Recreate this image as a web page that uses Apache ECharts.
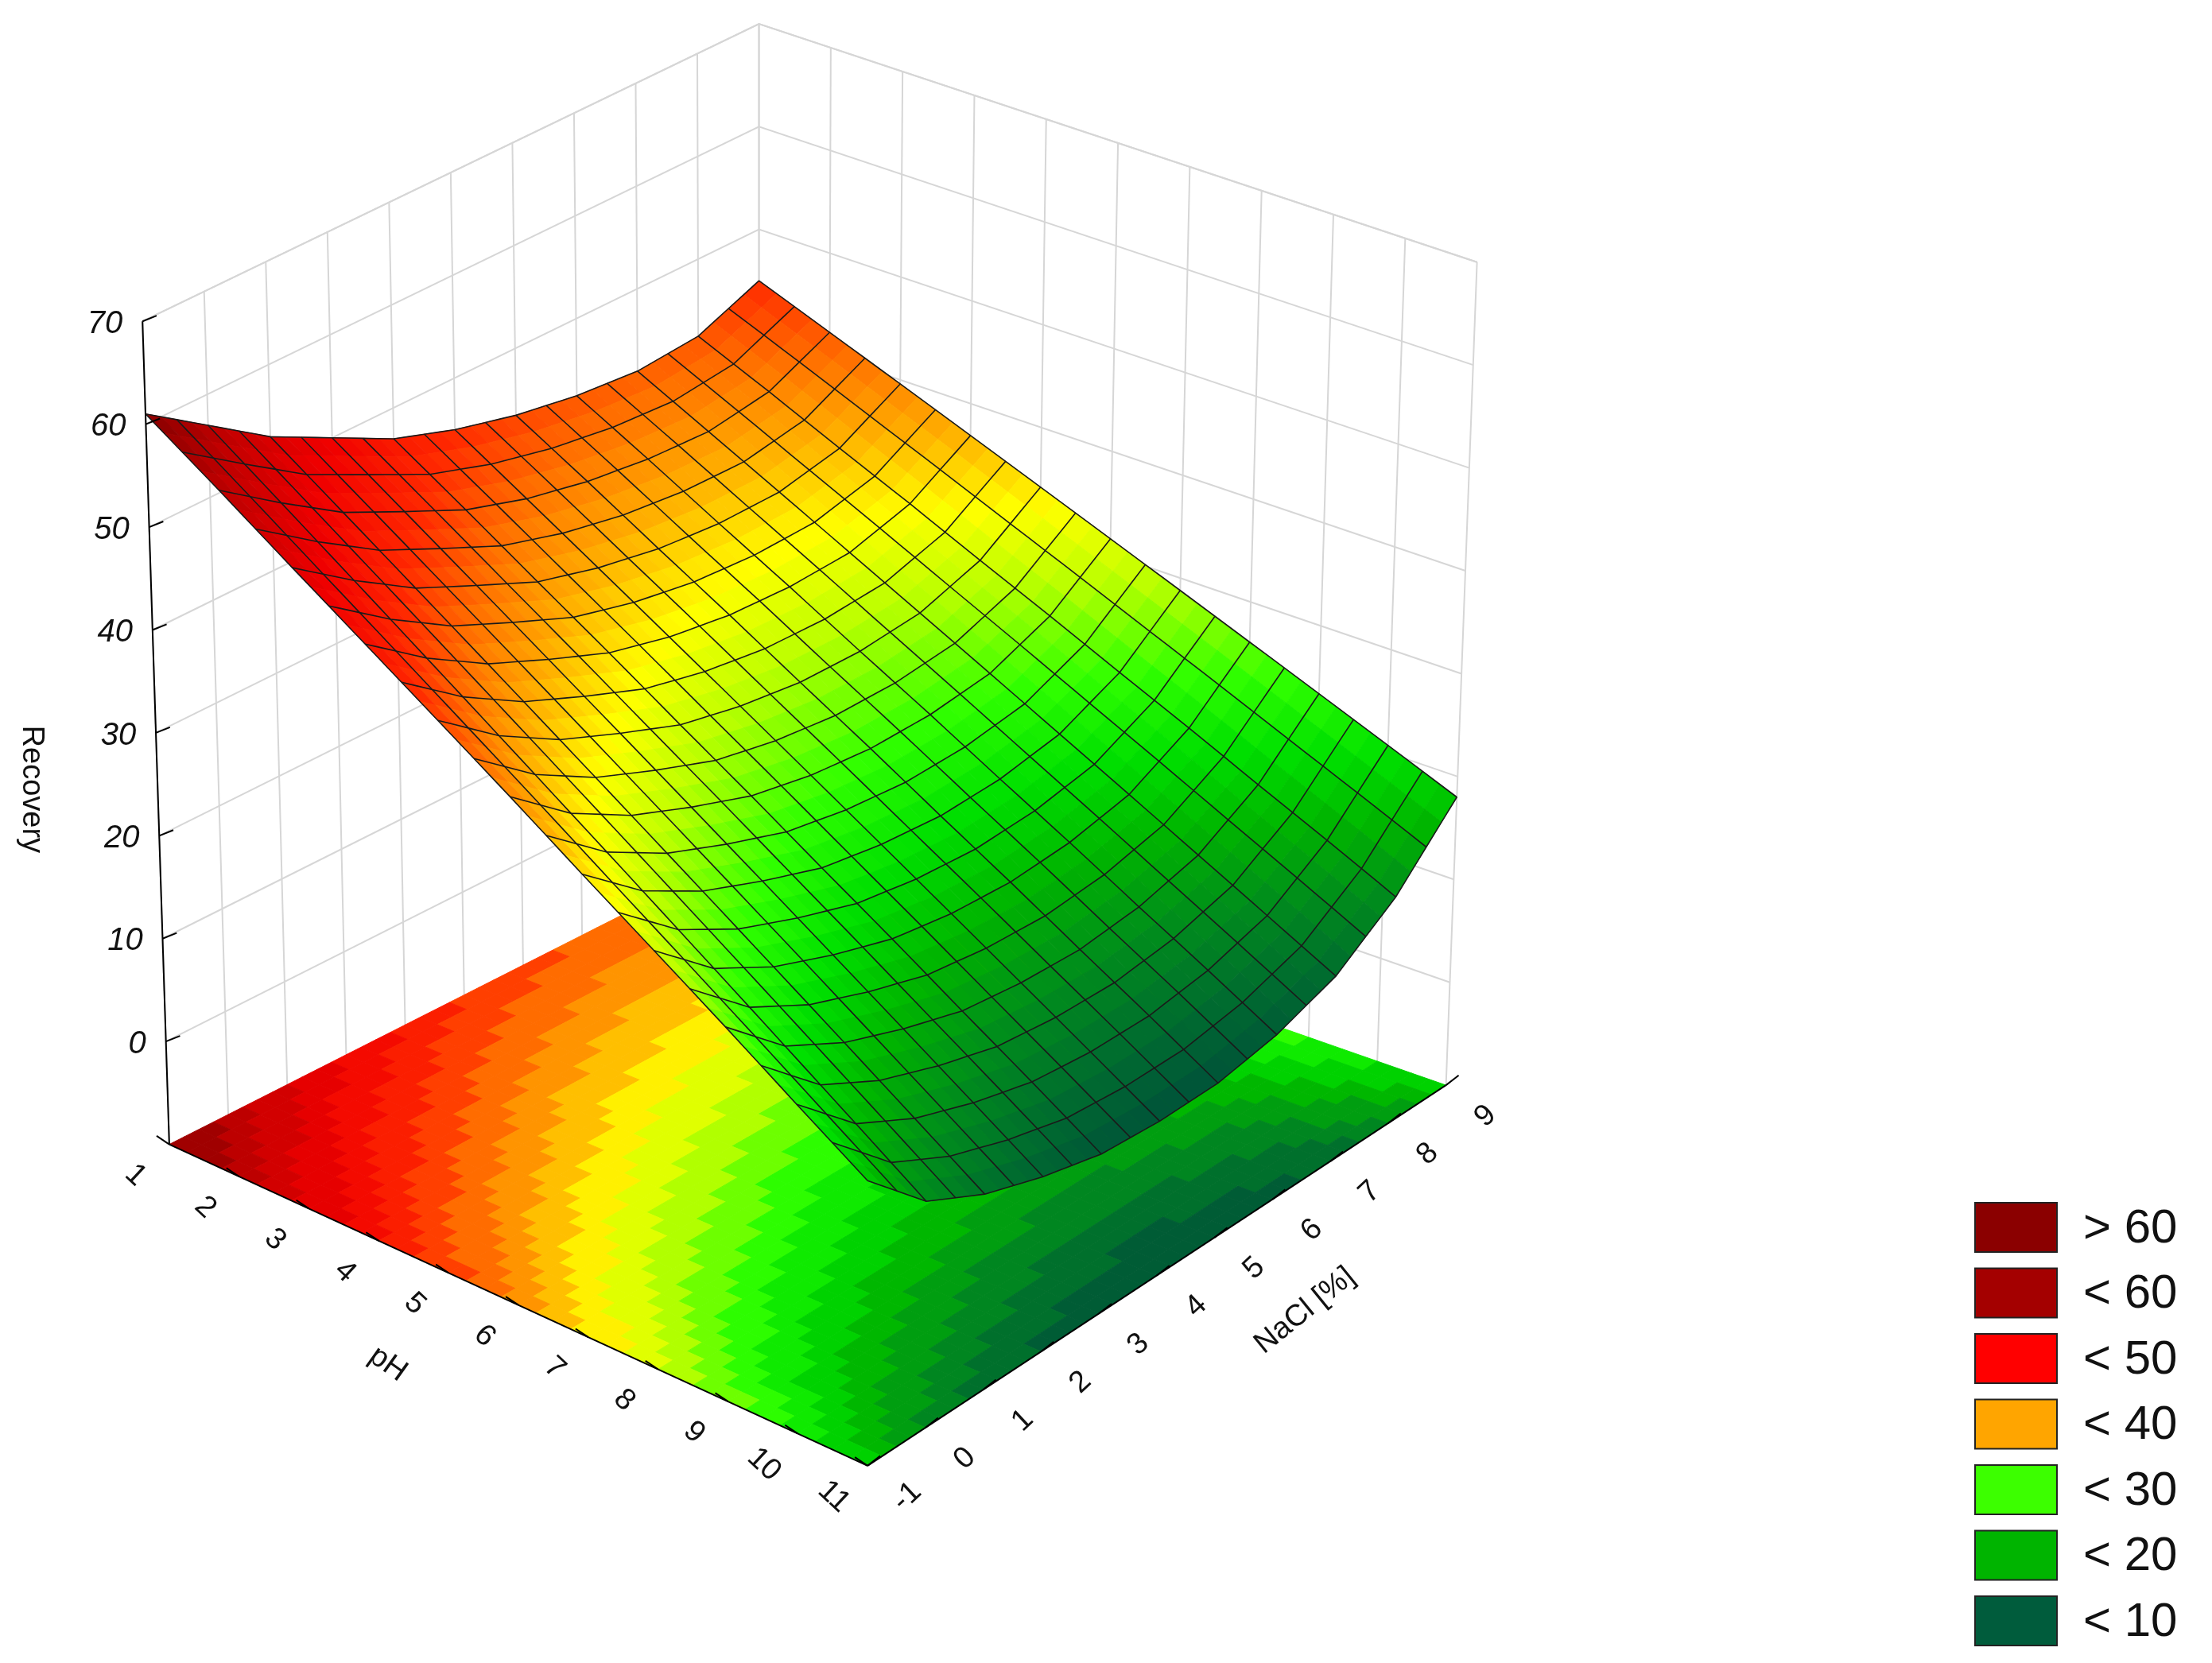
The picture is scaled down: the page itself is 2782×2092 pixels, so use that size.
<!DOCTYPE html>
<html><head><meta charset="utf-8">
<script src="https://cdn.jsdelivr.net/npm/echarts@6/dist/echarts.min.js"></script>
<style>html,body{margin:0;padding:0;background:#fff}#c{width:2782px;height:2092px}</style>
</head><body><div id="c"></div>
<script>
// ---- data (Recovery vs pH and NaCl) ----
const pHTicks = [1,2,3,4,5,6,7,8,9,10,11];
const naclTicks = [-1,0,1,2,3,4,5,6,7,8,9];
const zTicks = [0,10,20,30,40,50,60,70];
const rec_pH1  = [61,57,53,50,47,45,43.5,42.5,42,42.5,45];
const rec_pH2  = [56.7,52.5,48.6,45.7,42.9,41,39.7,38.9,38.6,39.5,42.3];
const rec_pH3  = [52.3,48,44.2,41.4,38.7,37,35.8,35.2,35.2,36.4,39.6];
const rec_pH4  = [48,43.5,39.8,37.1,34.6,33,32,31.6,31.8,33.4,36.9];
const rec_pH5  = [43.7,39,35.4,32.8,30.4,29,28.1,27.9,28.4,30.3,34.2];
const rec_pH6  = [39.4,34.5,31,28.5,26.3,25,24.3,24.3,25,27.3,31.5];
const rec_pH7  = [35,30,26.6,24.2,22.1,21,20.4,20.6,21.6,24.2,28.8];
const rec_pH8  = [30.7,25.5,22.2,19.9,18,17,16.6,17,18.2,21.2,26.1];
const rec_pH9  = [26.4,21,17.8,15.6,13.8,13,12.7,13.3,14.8,18.1,23.4];
const rec_pH10 = [22,16.5,13.4,11.3,9.7,9,8.9,9.7,11.4,15.1,20.7];
const rec_pH11 = [17.7,12,9,7,5.5,5,5,6,8,12,18];
const legendLabels = ['> 60','< 60','< 50','< 40','< 30','< 20','< 10'];
const legendColors = ['#8b0000','#a40000','#ff0000','#ffa500','#3cff00','#00b400','#005c3c'];

const grid = [rec_pH1,rec_pH2,rec_pH3,rec_pH4,rec_pH5,rec_pH6,rec_pH7,rec_pH8,rec_pH9,rec_pH10,rec_pH11];

// ---- view (box corners in a 1568x1180 frame) ----
const W=1568,H=1180;
const botQ={A:[120,812],B:[615,1040],C:[1025,770],D:[538,600]};
const topQ={A:[101,228],B:[615,456],C:[1047,186],D:[538,17]};
const zMin=-10,zMax=70;
function bil(q,u,v){
  const x=(1-u)*(1-v)*q.A[0]+u*(1-v)*q.B[0]+u*v*q.C[0]+(1-u)*v*q.D[0];
  const y=(1-u)*(1-v)*q.A[1]+u*(1-v)*q.B[1]+u*v*q.C[1]+(1-u)*v*q.D[1];
  return [x,y];
}
function proj(p,n,z){
  const u=(p-1)/10,v=(n+1)/10,t=(z-zMin)/(zMax-zMin);
  const a=bil(botQ,u,v),b=bil(topQ,u,v);
  return [a[0]+(b[0]-a[0])*t,a[1]+(b[1]-a[1])*t];
}
function val(p,n){
  let i=p-1,j=n+1;
  let i0=Math.max(0,Math.min(9,Math.floor(i))),j0=Math.max(0,Math.min(9,Math.floor(j)));
  const fi=i-i0,fj=j-j0;
  return (1-fi)*(1-fj)*grid[i0][j0]+fi*(1-fj)*grid[i0+1][j0]+fi*fj*grid[i0+1][j0+1]+(1-fi)*fj*grid[i0][j0+1];
}
const stops=[[4,'#004a3c'],[8,'#006a30'],[12,'#008c1c'],[16,'#00b400'],[20,'#00e000'],[24,'#30ff00'],[29,'#b8ff00'],[33,'#ffff00'],[37,'#ffb000'],[41,'#ff7000'],[45,'#ff2800'],[50,'#f00000'],[56,'#c00000'],[62,'#7a0000']];
function hex(h){return [parseInt(h.substr(1,2),16),parseInt(h.substr(3,2),16),parseInt(h.substr(5,2),16)];}
function col(v){
  if(v<=stops[0][0])return stops[0][1];
  for(let k=1;k<stops.length;k++){
    if(v<=stops[k][0]){
      const a=hex(stops[k-1][1]),b=hex(stops[k][1]),f=(v-stops[k-1][0])/(stops[k][0]-stops[k-1][0]);
      return 'rgb('+[0,1,2].map(c=>Math.round(a[c]+(b[c]-a[c])*f)).join(',')+')';
    }
  }
  return stops[stops.length-1][1];
}

const chart=echarts.init(document.getElementById('c'));
const font='"Liberation Sans", Arial, sans-serif';
function renderItem(params,api){
  const C=(pt)=>api.coord(pt);
  const P=(p,n,z)=>C(proj(p,n,z));
  const ch=[];
  const line=(pts,stroke,w)=>ch.push({type:'polyline',shape:{points:pts},style:{stroke:stroke,lineWidth:w,fill:null},silent:true});
  const gray='#d6d6d6';
  zTicks.concat([zMax]).forEach(z=>{
    line([P(1,-1,z),P(1,9,z),P(11,9,z)],gray,2);
  });
  naclTicks.forEach(n=>line([P(1,n,zMin),P(1,n,zMax)],gray,2));
  pHTicks.forEach(p=>line([P(p,9,zMin),P(p,9,zMax)],gray,2));
  const S=40,dp=10/S,dn=10/S;
  for(let a=0;a<S;a++)for(let b=S-1;b>=0;b--){
    const p=1+a*dp,n=-1+b*dn;
    let v=val(p+dp/2,n+dn/2); v=Math.floor(v/2.5)*2.5+1.25;
    const c=col(v);
    ch.push({type:'polygon',shape:{points:[P(p,n,zMin),P(p+dp,n,zMin),P(p+dp,n+dn,zMin),P(p,n+dn,zMin)]},style:{fill:c,stroke:c,lineWidth:1},silent:true});
  }
  for(let a=0;a<S;a++)for(let b=S-1;b>=0;b--){
    const p=1+a*dp,n=-1+b*dn;
    const c=col(val(p+dp/2,n+dn/2));
    ch.push({type:'polygon',shape:{points:[P(p,n,val(p,n)),P(p+dp,n,val(p+dp,n)),P(p+dp,n+dn,val(p+dp,n+dn)),P(p,n+dn,val(p,n+dn))]},style:{fill:c,stroke:c,lineWidth:1},silent:true});
  }
  for(let k=0;k<=20;k++){
    const p=1+k*0.5,pts=[];
    for(let b=0;b<=S;b++){const n=-1+b*dn;pts.push(P(p,n,val(p,n)));}
    line(pts,'#1a1a1a',1.6);
    const n=-1+k*0.5,pts2=[];
    for(let a=0;a<=S;a++){const pp=1+a*dp;pts2.push(P(pp,n,val(pp,n)));}
    line(pts2,'#1a1a1a',1.6);
  }
  line([P(1,-1,zMin),P(1,-1,zMax)],'#000',2);
  line([P(1,-1,zMin),P(11,-1,zMin)],'#000',2);
  line([P(11,-1,zMin),P(11,9,zMin)],'#000',2);
  const txt=(pt,s,rot,align,size,italic)=>ch.push({type:'text',x:pt[0],y:pt[1],rotation:rot,style:{text:s,fill:'#111',font:(italic?'italic ':'')+size+'px '+font,align:align,verticalAlign:'middle'},silent:true});
  zTicks.forEach(z=>{
    const q=proj(1,-1,z);
    line([C(q),C([q[0]+10,q[1]-4])],'#000',2);
    txt(C([q[0]-14,q[1]+2]),String(z),0,'right',40,true);
  });
  pHTicks.forEach(p=>{
    const q=proj(p,-1,zMin);
    line([C(q),C([q[0]-9,q[1]-6])],'#000',2);
    txt(C([q[0]-24,q[1]+22]),String(p),-0.75,'center',38,false);
  });
  naclTicks.forEach(n=>{
    const q=proj(11,n,zMin);
    line([C(q),C([q[0]+9,q[1]-7])],'#000',2);
    txt(C([q[0]+28,q[1]+22]),String(n),0.75,'center',38,false);
  });
  txt(C([275,968]),'pH',-0.62,'center',38,false);
  txt(C([925,930]),'NaCl [%]',0.68,'center',38,false);
  txt(C([22,560]),'Recovery',-Math.PI/2,'center',38,false);
  return {type:'group',children:ch};
}
const graphics=[];
legendLabels.forEach((l,i)=>{
  const y=1512+i*82.5;
  graphics.push({type:'rect',left:2483,top:y,shape:{width:103,height:62},style:{fill:legendColors[i],stroke:'#222',lineWidth:2}});
  graphics.push({type:'text',left:2620,top:y+4,style:{text:l,fill:'#111',font:'60px '+font}});
});
chart.setOption({
  animation:false,
  grid:{left:0,right:0,top:0,bottom:0},
  xAxis:{type:'value',min:0,max:W,show:false},
  yAxis:{type:'value',min:0,max:H,inverse:true,show:false},
  graphic:graphics,
  series:[{type:'custom',renderItem:renderItem,data:[[0,0]],clip:false,silent:true}]
});
</script></body></html>
